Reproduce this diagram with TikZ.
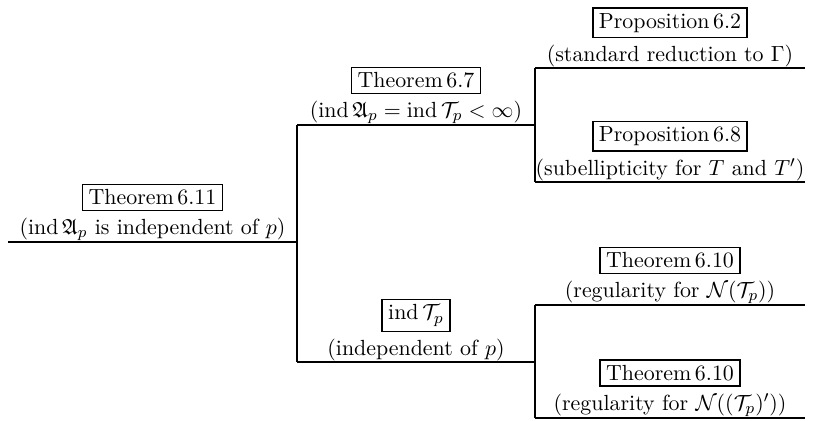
\documentclass[tikz,border=0pt,11pt]{standalone}
\usepackage{amssymb}
\usetikzlibrary{positioning,calc}

\tikzset{
  branch/.style={line width=0.75pt},
  result/.style={draw, line width=0.75pt, inner xsep=3pt, inner ysep=2.6pt},
  remark/.style={inner sep=0.5pt},
}

\begin{document}
\begin{tikzpicture}[x=0.5pt,y=-0.5pt]
  \useasboundingbox (0,0) rectangle (822,421);

  % junctions of the tree
  \coordinate (root) at (8,242);
  \coordinate (fork) at (297,242);
  \coordinate (up) at (297,125);
  \coordinate (down) at (297,362);
  \coordinate (upfork) at (535,125);
  \coordinate (downfork) at (535,362);
  \coordinate (up1) at (535,68);
  \coordinate (up2) at (535,182);
  \coordinate (down1) at (535,305);
  \coordinate (down2) at (535,418);
  \coordinate (up1end) at (805,68);
  \coordinate (up2end) at (805,182);
  \coordinate (down1end) at (805,305);
  \coordinate (down2end) at (805,418);

  \draw[branch] (root) -- (fork);
  \draw[branch] (up) -- (down);
  \draw[branch] (up) -- (upfork);
  \draw[branch] (down) -- (downfork);
  \draw[branch] (up1) -- (up2);
  \draw[branch] (down1) -- (down2);
  \foreach \leaf in {up1,up2,down1,down2}
    \draw[branch] (\leaf) -- (\leaf end);

  \foreach \nm/\from/\to/\head/\desc in {
      thm611/root/fork/{Theorem\,6.11}/{(ind\,$\mathfrak{A}_p$ is independent of $p$)},
      thm67/up/upfork/{Theorem\,6.7}/{(ind\,$\mathfrak{A}_p=\mathrm{ind}\,\mathcal{T}_p<\infty$)},
      indT/down/downfork/{ind\,$\mathcal{T}_p$}/{(independent of $p$)},
      prop62/up1/up1end/{Proposition\,6.2}/{(standard reduction to $\Gamma$)},
      prop68/up2/up2end/{Proposition\,6.8}/{(subellipticity for $T$ and $T'$)},
      thm610a/down1/down1end/{Theorem\,6.10}/{(regularity for $\mathcal{N}(\mathcal{T}_p)$)},
      thm610b/down2/down2end/{Theorem\,6.10}/{(regularity for $\mathcal{N}((\mathcal{T}_p)')$)}}
  {
    \node[remark, above=0pt] (\nm-desc) at ($(\from)!0.5!(\to)$) {\desc};
    \node[result, above=2.5pt of \nm-desc] (\nm) {\head};
  }
\end{tikzpicture}
\end{document}
